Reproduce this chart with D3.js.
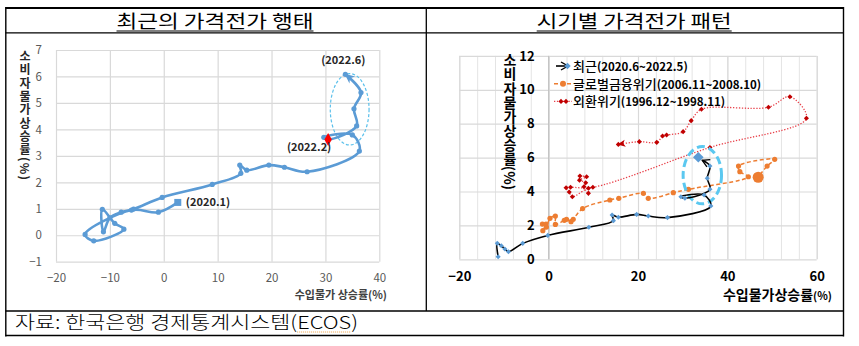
<!DOCTYPE html>
<html>
<head>
<meta charset="utf-8">
<script src="https://cdn.jsdelivr.net/npm/d3@7"></script>
<style>
  body { margin: 0; background: #fff; }
  svg { display: block; }
  text { font-family: "Noto Sans CJK KR", "Noto Sans", sans-serif; }
  .vtitle { writing-mode: vertical-rl; text-orientation: mixed; }
</style>
</head>
<body>
<svg id="chart" width="859" height="346"></svg>
<script>
// ---- 최근의 가격전가 행태 (2020.1 ~ 2022.6) ----
const recentImport = [2.6, -1.0, -6.0, -14.6, -13.0, -7.4, -9.1, -11.4, -11.2, -10.0, -7.9, -5.6, -0.3,
                      9.0, 14.3, 14.1, 15.4, 19.5, 22.4, 26.6, 36.3, 35.0, 29.7, 30.5, 35.8, 35.3, 36.6, 33.7];
const recentCpi    = [1.24, 0.87, 0.95, 0.03, -0.21, 0.23, 0.45, 0.98, 0.13, 0.66, 0.87, 0.99, 1.43,
                      1.92, 2.34, 2.65, 2.46, 2.65, 2.57, 2.40, 3.18, 3.79, 3.70, 3.62, 4.13, 4.78, 5.39, 6.08];
const recentLabels = ["(2020.1)", "(2022.2)", "(2022.6)"];
const recentLabelIdx = [0, 23, 27];

// ---- 시기별 가격전가 패턴 ----
// 최근 (2020.6 ~ 2022.5)
const nowImport = [-11.3, -11.5, -10.6, -9.8, -9.0, -5.8, -0.2, 9.0, 14.5, 14.2, 15.6, 19.7, 22.3, 26.6,
                   36.3, 34.8, 29.6, 30.5, 36.1, 35.5, 36.1, 33.5];
const nowCpi    = [0.15, 0.94, 0.80, 0.61, 0.45, 0.94, 1.41, 1.89, 2.28, 2.61, 2.48, 2.65, 2.55, 2.46,
                   3.14, 3.79, 3.69, 3.60, 4.13, 4.78, 5.50, 6.02];
// 글로벌금융위기 (2006.11 ~ 2008.10)
const gfcImport = [-1.4, -0.6, -1.3, -0.5, 0.3, 1.5, 1.5, 3.5, 4.0, 5.0, 5.5, 7.6, 13.7, 15.7,
                   21.2, 22.3, 27.9, 31.3, 44.7, 42.8, 42.5, 50.6, 48.9, 46.9];
const gfcCpi    = [2.08, 2.08, 1.69, 1.90, 2.42, 2.55, 2.06, 2.30, 2.36, 2.22, 2.36, 2.99, 3.50, 3.60,
                   3.89, 3.60, 3.93, 4.13, 4.87, 5.17, 5.50, 5.90, 5.50, 4.84];
// 외환위기 (1996.12 ~ 1998.11)
const afcImport = [7.0, 8.5, 6.9, 8.3, 7.9, 8.9, 8.9, 5.3, 4.6, 3.9, 4.9, 9.9, 36.1,
                   57.7, 54.0, 49.2, 34.2, 31.9, 30.1, 26.4, 25.5, 24.2, 20.3, 15.6];
const afcCpi    = [4.91, 4.87, 4.67, 4.52, 4.28, 3.89, 4.19, 3.69, 3.97, 4.22, 4.25, 4.25, 6.60,
                   8.32, 9.59, 8.97, 8.85, 8.18, 7.53, 7.33, 7.27, 6.90, 6.94, 6.78];
const seriesNames = ["최근", "글로벌금융위기", "외환위기"];
const seriesPeriods = ["(2020.6~2022.5)", "(2006.11~2008.10)", "(1996.12~1998.11)"];

// ---- 축 눈금 ----
const leftXTicks = [-20, -10, 0, 10, 20, 30, 40];
const leftYTicks = [-1, 0, 1, 2, 3, 4, 5, 6, 7];
const rightXTicks = [-20, 0, 20, 40, 60];
const rightXMinor = d3.range(-20, 60.01, 4);
const rightYTicks = [0, 2, 4, 6, 8, 10, 12];

const yTitle = "소비자물가상승률(%)";

const BLUE = "#5b9bd5";
const GRID = "#d9d9d9";

const svg = d3.select("#chart");
svg.append("rect").attr("width", 859).attr("height", 346).attr("fill", "#fff");

const defs = svg.append("defs");
defs.append("marker").attr("id", "arrowBlue")
  .attr("viewBox", "-10 -5 12 10").attr("refX", 0).attr("refY", 0)
  .attr("markerWidth", 12).attr("markerHeight", 10).attr("markerUnits", "userSpaceOnUse")
  .attr("orient", "auto")
  .append("path").attr("d", "M1,0 L-9,-4.5 L-6,0 L-9,4.5 Z").attr("fill", BLUE);
defs.append("marker").attr("id", "arrowBlack")
  .attr("viewBox", "-10 -5 12 10").attr("refX", 0).attr("refY", 0)
  .attr("markerWidth", 12).attr("markerHeight", 10).attr("markerUnits", "userSpaceOnUse")
  .attr("orient", "auto")
  .append("path").attr("d", "M-7,-4 L0,0 L-7,4").attr("fill", "none").attr("stroke", "#000").attr("stroke-width", 1.4);
defs.append("marker").attr("id", "arrowRed")
  .attr("viewBox", "-10 -5 12 10").attr("refX", 0).attr("refY", 0)
  .attr("markerWidth", 12).attr("markerHeight", 10).attr("markerUnits", "userSpaceOnUse")
  .attr("orient", "auto")
  .append("path").attr("d", "M1,0 L-7,-3.5 L-5,0 L-7,3.5 Z").attr("fill", "#c00000");

// ================= 표 테두리 =================
const frame = svg.append("g").attr("stroke", "#000").attr("fill", "none");
frame.append("line").attr("x1", 5.5).attr("x2", 843.5).attr("y1", 8).attr("y2", 8).attr("stroke-width", 1.8);
frame.append("line").attr("x1", 5.5).attr("x2", 843.5).attr("y1", 32.8).attr("y2", 32.8).attr("stroke-width", 1.3);
frame.append("line").attr("x1", 5.5).attr("x2", 843.5).attr("y1", 311).attr("y2", 311).attr("stroke-width", 1.3);
frame.append("line").attr("x1", 5.5).attr("x2", 843.5).attr("y1", 335.6).attr("y2", 335.6).attr("stroke-width", 1.5);
frame.append("line").attr("x1", 5.8).attr("x2", 5.8).attr("y1", 7).attr("y2", 336.5).attr("stroke-width", 1.4);
frame.append("line").attr("x1", 843.5).attr("x2", 843.5).attr("y1", 7).attr("y2", 336.5).attr("stroke-width", 1.4);
frame.append("line").attr("x1", 426.3).attr("x2", 426.3).attr("y1", 7).attr("y2", 311).attr("stroke-width", 1.3);

function titleText(txt, cx, width) {
  const t = svg.append("text").attr("x", cx).attr("y", 28).attr("text-anchor", "middle")
    .attr("font-size", 18).attr("fill", "#000")
    .attr("textLength", width).attr("lengthAdjust", "spacingAndGlyphs").text(txt);
  svg.append("line").attr("x1", cx - width / 2).attr("x2", cx + width / 2)
    .attr("y1", 31).attr("y2", 31).attr("stroke", "#000").attr("stroke-width", 1);
  return t;
}
titleText("최근의 가격전가 행태", 215, 197);
titleText("시기별 가격전가 패턴", 634.2, 195);

// 출처
const src = svg.append("text").attr("x", 15).attr("y", 329).attr("font-size", 18)
  .attr("font-weight", 300).attr("fill", "#000")
  .attr("textLength", 343).attr("lengthAdjust", "spacingAndGlyphs")
  .text("자료: 한국은행 경제통계시스템(ECOS)");
{
  const s = src.text();
  const i = s.indexOf("ECOS");
  const node = src.node();
  const x0 = node.getStartPositionOfChar(i).x;
  const x1 = node.getEndPositionOfChar(i + 3).x;
  svg.append("line").attr("x1", x0).attr("x2", x1).attr("y1", 332).attr("y2", 332)
    .attr("stroke", "#f0a040").attr("stroke-width", 1).attr("stroke-dasharray", "1,1");
}

// ================= 왼쪽 차트 =================
const lx = d3.scaleLinear().domain([-20, 40]).range([56, 379.3]);
const ly = d3.scaleLinear().domain([-1, 7]).range([261.7, 50]);
const gl = svg.append("g");

gl.append("g").attr("transform", `translate(0,${ly(-1)})`)
  .call(d3.axisBottom(lx).tickValues(leftXTicks).tickSize(-(ly(-1) - ly(7))).tickFormat(""))
  .call(g => g.select(".domain").remove())
  .call(g => g.selectAll("line").attr("stroke", GRID).attr("stroke-width", 1.2));
gl.append("g").attr("transform", `translate(${lx(-20)},0)`)
  .call(d3.axisLeft(ly).tickValues(leftYTicks).tickSize(-(lx(40) - lx(-20))).tickFormat(""))
  .call(g => g.select(".domain").remove())
  .call(g => g.selectAll("line").attr("stroke", GRID).attr("stroke-width", 1.2));

// 눈금 라벨
gl.append("g").attr("transform", `translate(${lx(-20)},0)`)
  .call(d3.axisLeft(ly).tickValues(leftYTicks).tickSize(0).tickPadding(14))
  .call(g => g.select(".domain").remove())
  .call(g => g.selectAll("text").attr("font-size", 11.5).attr("fill", "#595959").attr("font-family", null));
gl.append("g").attr("transform", `translate(0,${ly(-1)})`)
  .call(d3.axisBottom(lx).tickValues(leftXTicks).tickSize(0).tickPadding(12))
  .call(g => g.select(".domain").remove())
  .call(g => g.selectAll("text").attr("font-size", 11.5).attr("fill", "#595959").attr("font-family", null));

// 축 제목
gl.append("text").attr("x", 387).attr("y", 299).attr("text-anchor", "end")
  .attr("font-size", 11).attr("font-weight", 700).attr("fill", "#404040").text("수입물가 상승률(%)");
gl.append("text").attr("class", "vtitle").attr("x", 25).attr("y", 50.5)
  .attr("font-size", 12).attr("font-weight", 700).attr("letter-spacing", 1.3)
  .attr("fill", "#262626").text(yTitle);

// 타원 강조
gl.append("ellipse").attr("cx", lx(34.5)).attr("cy", ly(4.76))
  .attr("rx", lx(34.5 + 3.6) - lx(34.5)).attr("ry", ly(4.76 - 1.35) - ly(4.76))
  .attr("fill", "none").attr("stroke", "#5bc0eb").attr("stroke-width", 1.2).attr("stroke-dasharray", "3,2");

const leftPts = recentImport.map((v, i) => [lx(v), ly(recentCpi[i])]);
gl.append("path").attr("d", d3.line().curve(d3.curveCatmullRom.alpha(0.5))(leftPts))
  .attr("fill", "none").attr("stroke", BLUE).attr("stroke-width", 2.6)
  .attr("stroke-linejoin", "round").attr("marker-end", "url(#arrowBlue)");
gl.selectAll(".lpt").data(leftPts.slice(1)).join("circle")
  .attr("cx", d => d[0]).attr("cy", d => d[1]).attr("r", 2.6).attr("fill", BLUE);
// 시작점(사각형), 2022.2(빨간 마름모)
gl.append("rect").attr("x", leftPts[0][0] - 3.5).attr("y", leftPts[0][1] - 3.5)
  .attr("width", 7).attr("height", 7).attr("fill", BLUE);
{
  const p = leftPts[recentLabelIdx[1]];
  gl.append("path").attr("d", d3.symbol(d3.symbolDiamond, 48)())
    .attr("transform", `translate(${p[0]},${p[1]})`).attr("fill", "#ff0000");
}
// 라벨
const lblPos = [[8, 4, "start"], [-19, 12, "middle"], [-2, -10, "middle"]];
recentLabelIdx.forEach((idx, k) => {
  const p = leftPts[idx];
  gl.append("text").attr("x", p[0] + lblPos[k][0]).attr("y", p[1] + lblPos[k][1])
    .attr("text-anchor", lblPos[k][2]).attr("font-size", 11).attr("font-weight", 700)
    .attr("fill", "#262626").text(recentLabels[k]);
});

// ================= 오른쪽 차트 =================
const rx = d3.scaleLinear().domain([-20, 60]).range([459.3, 816.7]);
const ry = d3.scaleLinear().domain([0, 12]).range([259.3, 55.9]);
const gr = svg.append("g");

// 보조 세로 눈금선
gr.append("g").attr("transform", `translate(0,${ry(0)})`)
  .call(d3.axisBottom(rx).tickValues(rightXMinor).tickSize(-(ry(0) - ry(12))).tickFormat(""))
  .call(g => g.select(".domain").remove())
  .call(g => g.selectAll("line").attr("stroke", "#e4e4e4").attr("stroke-width", 1));
gr.append("g").attr("transform", `translate(0,${ry(0)})`)
  .call(d3.axisBottom(rx).tickValues(rightXTicks).tickSize(-(ry(0) - ry(12))).tickFormat(""))
  .call(g => g.select(".domain").remove())
  .call(g => g.selectAll("line").attr("stroke", GRID).attr("stroke-width", 1.2));
gr.append("g").attr("transform", `translate(${rx(-20)},0)`)
  .call(d3.axisLeft(ry).tickValues(rightYTicks).tickSize(-(rx(60) - rx(-20))).tickFormat(""))
  .call(g => g.select(".domain").remove())
  .call(g => g.selectAll("line").attr("stroke", GRID).attr("stroke-width", 1.2));
// 세로축 (x=0)
gr.append("line").attr("x1", rx(0)).attr("x2", rx(0)).attr("y1", ry(0)).attr("y2", ry(12))
  .attr("stroke", "#bfbfbf").attr("stroke-width", 1);

gr.append("g").attr("transform", `translate(${rx(0)},0)`)
  .call(d3.axisLeft(ry).tickValues(rightYTicks).tickSize(0).tickPadding(14))
  .call(g => g.select(".domain").remove())
  .call(g => g.selectAll("text").attr("font-size", 13).attr("font-weight", 700).attr("fill", "#000").attr("font-family", null));
gr.append("g").attr("transform", `translate(0,${ry(0)})`)
  .call(d3.axisBottom(rx).tickValues(rightXTicks).tickSize(0).tickPadding(12.5))
  .call(g => g.select(".domain").remove())
  .call(g => g.selectAll("text").attr("font-size", 13).attr("font-weight", 700).attr("fill", "#000").attr("font-family", null));

// 축 제목
{
  const t = gr.append("text").attr("x", 832).attr("y", 300).attr("text-anchor", "end")
    .attr("font-weight", 700).attr("fill", "#000");
  t.append("tspan").attr("font-size", 14).text("수입물가상승률");
  t.append("tspan").attr("font-size", 11).text("(%)");
}
gr.append("text").attr("class", "vtitle").attr("x", 510).attr("y", 53)
  .attr("font-size", 14).attr("font-weight", 700).attr("letter-spacing", 0.1)
  .attr("fill", "#000").text(yTitle);

const curve = d3.line().curve(d3.curveCatmullRom.alpha(0.5));
const diamond = (g, pts, size, color) => g.selectAll(null).data(pts).join("rect")
  .attr("x", -size / 2).attr("y", -size / 2).attr("width", size).attr("height", size)
  .attr("transform", d => `translate(${d[0]},${d[1]}) rotate(45)`).attr("fill", color);

// 외환위기
const afcPts = afcImport.map((v, i) => [rx(v), ry(afcCpi[i])]);
gr.append("path").attr("d", curve(afcPts)).attr("fill", "none")
  .attr("stroke", "#e8414a").attr("stroke-width", 1.3).attr("stroke-dasharray", "1.3,1.6")
  .attr("marker-end", "url(#arrowRed)");
diamond(gr, afcPts, 3.6, "#c00000");

// 글로벌금융위기
const gfcPts = gfcImport.map((v, i) => [rx(v), ry(gfcCpi[i])]);
gr.append("path").attr("d", curve(gfcPts)).attr("fill", "none")
  .attr("stroke", "#ed7d31").attr("stroke-width", 1.5).attr("stroke-dasharray", "4,2.5");
gr.selectAll(null).data(gfcPts.slice(0, -1)).join("circle")
  .attr("cx", d => d[0]).attr("cy", d => d[1]).attr("r", 2.6).attr("fill", "#ed7d31");
{
  const p = gfcPts[gfcPts.length - 1];
  gr.append("circle").attr("cx", p[0]).attr("cy", p[1]).attr("r", 5.5).attr("fill", "#ed7d31");
}

// 타원 강조
gr.append("ellipse").attr("cx", rx(34.4)).attr("cy", ry(4.96))
  .attr("rx", rx(34.4 + 4.3) - rx(34.4)).attr("ry", ry(4.96 - 1.69) - ry(4.96))
  .attr("fill", "none").attr("stroke", "#5bc8f0").attr("stroke-width", 3).attr("stroke-dasharray", "8,4");

// 최근
const nowPts = nowImport.map((v, i) => [rx(v), ry(nowCpi[i])]);
{
  // 화살표가 마지막 마름모 가장자리에서 멈추도록 끝점을 약간 당김
  const a = nowPts[nowPts.length - 2], b = nowPts[nowPts.length - 1];
  const dx = b[0] - a[0], dy = b[1] - a[1], len = Math.hypot(dx, dy);
  const end = [b[0] - dx / len * 5, b[1] - dy / len * 5];
  gr.append("path").attr("d", curve(nowPts.slice(0, -1).concat([end]))).attr("fill", "none")
    .attr("stroke", "#000").attr("stroke-width", 1.6).attr("marker-end", "url(#arrowBlack)");
}
diamond(gr, nowPts.slice(0, -1), 3.6, BLUE);
diamond(gr, nowPts.slice(-1), 7.5, BLUE);

// 범례
const leg = gr.append("g");
const legY = [66, 83.7, 101.4];
leg.append("line").attr("x1", 556).attr("x2", 568).attr("y1", legY[0]).attr("y2", legY[0])
  .attr("stroke", "#000").attr("stroke-width", 1.6).attr("marker-end", "url(#arrowBlack)");
diamond(leg, [[567.5, legY[0]]], 4.5, BLUE);
leg.append("line").attr("x1", 554).attr("x2", 572).attr("y1", legY[1]).attr("y2", legY[1])
  .attr("stroke", "#ed7d31").attr("stroke-width", 1.5).attr("stroke-dasharray", "4,2.5");
leg.append("circle").attr("cx", 563).attr("cy", legY[1]).attr("r", 3).attr("fill", "#ed7d31");
leg.append("line").attr("x1", 554).attr("x2", 572).attr("y1", legY[2]).attr("y2", legY[2])
  .attr("stroke", "#e8414a").attr("stroke-width", 1.3).attr("stroke-dasharray", "1.3,1.6");
diamond(leg, [[561, legY[2]], [566, legY[2]]], 3.6, "#c00000");
seriesNames.forEach((n, i) => {
  const t = leg.append("text").attr("x", 573).attr("y", legY[i] + 4.8).attr("fill", "#000");
  t.append("tspan").attr("font-size", 13).attr("font-weight", 500).text(n);
  t.append("tspan").attr("font-size", 11.5).attr("font-weight", 700).text(seriesPeriods[i]);
});
</script>
</body>
</html>
